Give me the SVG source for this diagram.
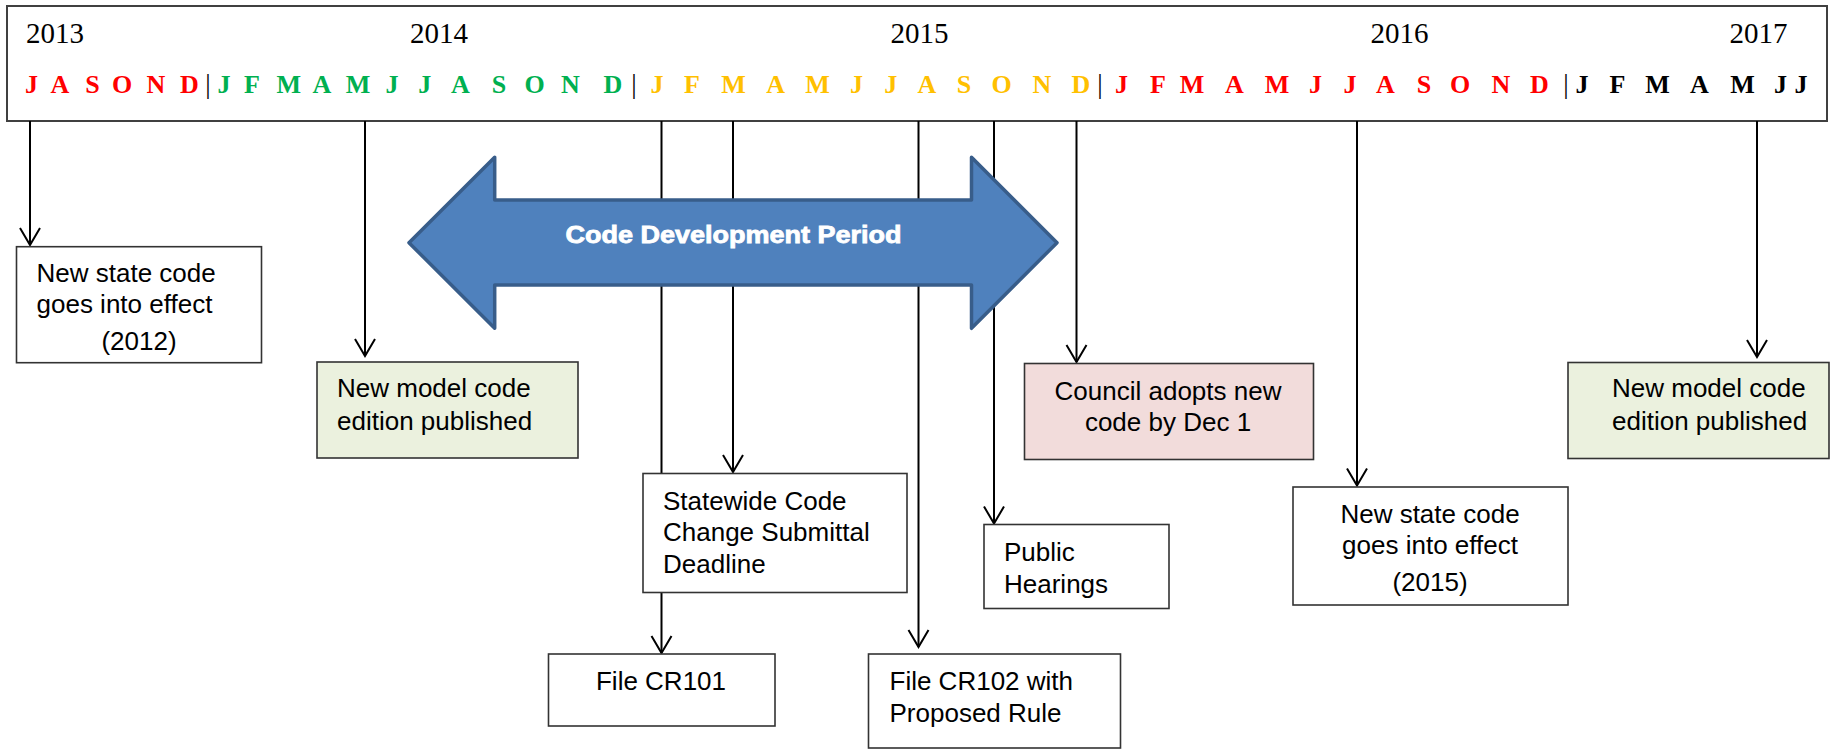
<svg xmlns="http://www.w3.org/2000/svg" width="1835" height="750" viewBox="0 0 1835 750">
<defs>
<marker id="ah" markerUnits="userSpaceOnUse" orient="auto" overflow="visible" markerWidth="20" markerHeight="20" refX="0" refY="0">
<path d="M-17,-10 L0,0 L-17,10" fill="none" stroke="#000" stroke-width="2"/>
</marker>
</defs>
<style>
.yr{font-family:"Liberation Serif","Times New Roman",serif;font-size:29px;fill:#000;text-anchor:middle}
.mo{font-family:"Liberation Serif","Times New Roman",serif;font-size:26px;font-weight:bold;text-anchor:middle}
.sep{font-family:"Liberation Serif","Times New Roman",serif;font-size:27px;fill:#000;text-anchor:middle}
.r{fill:#FF0000}.g{fill:#00B050}.o{fill:#FFC000}.k{fill:#000}
.box{fill:#fff;stroke:#333;stroke-width:1.6}
.grn{fill:#EBF1DE;stroke:#333;stroke-width:1.6}
.pnk{fill:#F2DCDB;stroke:#333;stroke-width:1.6}
.t{font-family:"Liberation Sans",Arial,sans-serif;font-size:26px;fill:#000}
.c{text-anchor:middle}
.ln{stroke:#000;stroke-width:2;fill:none}
</style>
<rect width="1835" height="750" fill="#fff"/>
<g id="timeline">
<rect x="7" y="6" width="1820" height="115" fill="#fff" stroke="#404040" stroke-width="2"/>
<text class="yr" x="55" y="43">2013</text>
<text class="yr" x="439" y="43">2014</text>
<text class="yr" x="919.5" y="43">2015</text>
<text class="yr" x="1399.5" y="43">2016</text>
<text class="yr" x="1758.5" y="43">2017</text>
<g class="mo">
<text class="r" x="31.6" y="92.5">J</text>
<text class="r" x="60" y="92.5">A</text>
<text class="r" x="92.5" y="92.5">S</text>
<text class="r" x="122" y="92.5">O</text>
<text class="r" x="156" y="92.5">N</text>
<text class="r" x="189.5" y="92.5">D</text>
<text class="g" x="224" y="92.5">J</text>
<text class="g" x="252" y="92.5">F</text>
<text class="g" x="288.8" y="92.5">M</text>
<text class="g" x="322" y="92.5">A</text>
<text class="g" x="358" y="92.5">M</text>
<text class="g" x="392" y="92.5">J</text>
<text class="g" x="424.8" y="92.5">J</text>
<text class="g" x="460.5" y="92.5">A</text>
<text class="g" x="499" y="92.5">S</text>
<text class="g" x="534.5" y="92.5">O</text>
<text class="g" x="570.5" y="92.5">N</text>
<text class="g" x="613" y="92.5">D</text>
<text class="o" x="657" y="92.5">J</text>
<text class="o" x="692" y="92.5">F</text>
<text class="o" x="733.5" y="92.5">M</text>
<text class="o" x="775.7" y="92.5">A</text>
<text class="o" x="817.5" y="92.5">M</text>
<text class="o" x="856.5" y="92.5">J</text>
<text class="o" x="890.8" y="92.5">J</text>
<text class="o" x="927" y="92.5">A</text>
<text class="o" x="964" y="92.5">S</text>
<text class="o" x="1001.5" y="92.5">O</text>
<text class="o" x="1042" y="92.5">N</text>
<text class="o" x="1081" y="92.5">D</text>
<text class="r" x="1121.5" y="92.5">J</text>
<text class="r" x="1158" y="92.5">F</text>
<text class="r" x="1192" y="92.5">M</text>
<text class="r" x="1234.5" y="92.5">A</text>
<text class="r" x="1277" y="92.5">M</text>
<text class="r" x="1315.5" y="92.5">J</text>
<text class="r" x="1350" y="92.5">J</text>
<text class="r" x="1385.5" y="92.5">A</text>
<text class="r" x="1424" y="92.5">S</text>
<text class="r" x="1460" y="92.5">O</text>
<text class="r" x="1500.8" y="92.5">N</text>
<text class="r" x="1539.5" y="92.5">D</text>
<text class="k" x="1582" y="92.5">J</text>
<text class="k" x="1617.5" y="92.5">F</text>
<text class="k" x="1657.5" y="92.5">M</text>
<text class="k" x="1699.5" y="92.5">A</text>
<text class="k" x="1742.5" y="92.5">M</text>
<text class="k" x="1780.5" y="92.5">J</text>
<text class="k" x="1801" y="92.5">J</text>
</g>
<text class="sep" x="208" y="93">|</text>
<text class="sep" x="634" y="93">|</text>
<text class="sep" x="1100" y="93">|</text>
<text class="sep" x="1566" y="93">|</text>
</g>
<g id="connectors">
<line class="ln" x1="30" y1="121" x2="30" y2="245" marker-end="url(#ah)"/>
<line class="ln" x1="365" y1="121" x2="365" y2="356" marker-end="url(#ah)"/>
<line class="ln" x1="661.5" y1="121" x2="661.5" y2="653" marker-end="url(#ah)"/>
<line class="ln" x1="733" y1="121" x2="733" y2="472" marker-end="url(#ah)"/>
<line class="ln" x1="918.5" y1="121" x2="918.5" y2="647" marker-end="url(#ah)"/>
<line class="ln" x1="994" y1="121" x2="994" y2="523.5" marker-end="url(#ah)"/>
<line class="ln" x1="1076.5" y1="121" x2="1076.5" y2="362" marker-end="url(#ah)"/>
<line class="ln" x1="1357" y1="121" x2="1357" y2="485.5" marker-end="url(#ah)"/>
<line class="ln" x1="1757" y1="121" x2="1757" y2="357" marker-end="url(#ah)"/>
</g>
<g id="code-development-period">
<path d="M409,242.7 L494.7,157.3 L494.7,200 L971.5,200 L971.5,157.3 L1057,242.7 L971.5,328.3 L971.5,285 L494.7,285 L494.7,328.3 Z" fill="#4F81BD" stroke="#385D8A" stroke-width="3.5" stroke-linejoin="round"/>
<text x="733.5" y="242.5" text-anchor="middle" font-family="'Liberation Sans',Arial,sans-serif" font-size="23" font-weight="bold" fill="#fff" stroke="#fff" stroke-width="0.8" textLength="336" lengthAdjust="spacingAndGlyphs">Code Development Period</text>
</g>
<g id="state-code-2012">
<rect class="box" x="16.5" y="246.7" width="245" height="116"/>
<text class="t" x="36.5" y="282">New state code</text>
<text class="t" x="36.5" y="313">goes into effect</text>
<text class="t c" x="139" y="350">(2012)</text>
</g>
<g id="model-code-left">
<rect class="grn" x="317" y="362" width="261" height="96"/>
<text class="t" x="337" y="397">New model code</text>
<text class="t" x="337" y="430">edition published</text>
</g>
<g id="statewide-deadline">
<rect class="box" x="643" y="473.5" width="264" height="119"/>
<text class="t" x="663" y="509.5">Statewide Code</text>
<text class="t" x="663" y="541">Change Submittal</text>
<text class="t" x="663" y="572.5">Deadline</text>
</g>
<g id="file-cr101">
<rect class="box" x="548.5" y="654" width="226.5" height="72"/>
<text class="t c" x="661" y="690">File CR101</text>
</g>
<g id="file-cr102">
<rect class="box" x="868.5" y="654" width="252" height="94"/>
<text class="t" x="889.5" y="690">File CR102 with</text>
<text class="t" x="889.5" y="721.5">Proposed Rule</text>
</g>
<g id="public-hearings">
<rect class="box" x="984" y="524.5" width="185" height="84"/>
<text class="t" x="1004" y="561">Public</text>
<text class="t" x="1004" y="592.5">Hearings</text>
</g>
<g id="council-adopts">
<rect class="pnk" x="1024.5" y="363.5" width="289" height="96"/>
<text class="t c" x="1168" y="399.5">Council adopts new</text>
<text class="t c" x="1168" y="431">code by Dec 1</text>
</g>
<g id="state-code-2015">
<rect class="box" x="1293" y="487" width="275" height="118"/>
<text class="t c" x="1430" y="523">New state code</text>
<text class="t c" x="1430" y="554">goes into effect</text>
<text class="t c" x="1430" y="591">(2015)</text>
</g>
<g id="model-code-right">
<rect class="grn" x="1568" y="362.5" width="261" height="96"/>
<text class="t" x="1612" y="397">New model code</text>
<text class="t" x="1612" y="429.5">edition published</text>
</g>
</svg>
